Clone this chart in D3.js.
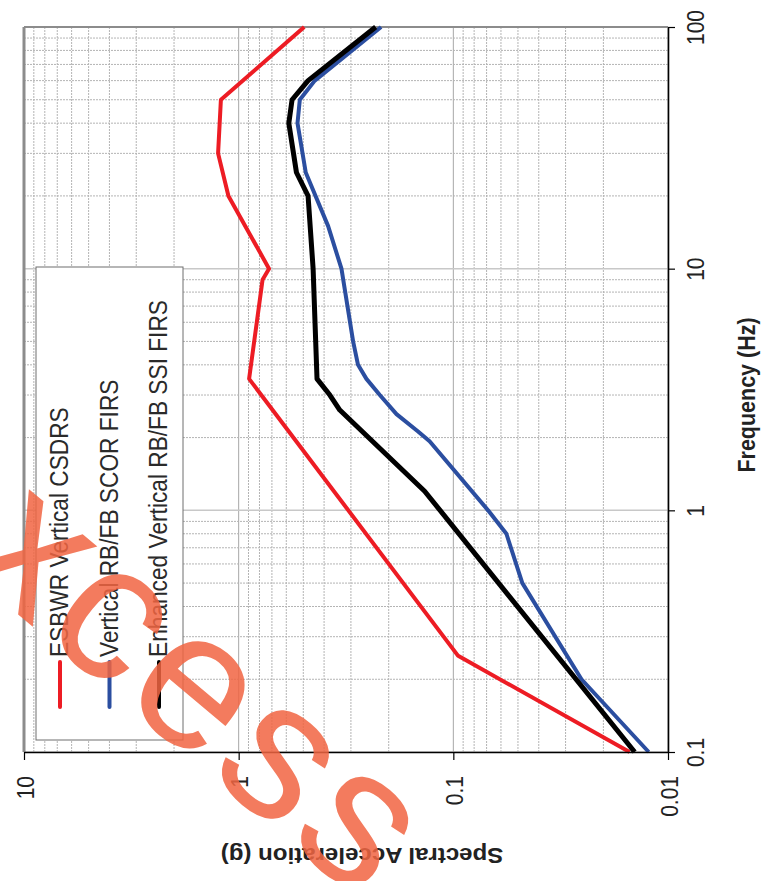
<!DOCTYPE html>
<html>
<head>
<meta charset="utf-8">
<script src="https://cdn.jsdelivr.net/npm/d3@7"></script>
<style>
  html, body { margin: 0; padding: 0; background: #fff; }
  svg { display: block; }
  text { font-family: "Liberation Sans", Arial, sans-serif; }
</style>
</head>
<body>
<script>
// Response spectra, vertical direction: frequency (Hz) vs spectral acceleration (g)
const seriesNames = ["ESBWR Vertical CSDRS", "Vertical RB/FB SCOR FIRS", "Enhanced Vertical RB/FB SSI FIRS"];
const seriesColors = ["#ED1C24", "#2B4EA0", "#000000"];

const csdrsFreq = [0.1, 0.25, 3.5, 9, 10, 20, 30, 50, 100];
const csdrsAcc  = [0.0151, 0.095, 0.894, 0.774, 0.722, 1.116, 1.247, 1.21, 0.495];

const scorFreq = [0.1, 0.2, 0.5, 0.8, 1, 1.93, 2.12, 2.5, 3, 3.5, 4, 5, 10, 15, 25, 40, 50, 60, 100];
const scorAcc  = [0.0123, 0.0253, 0.0477, 0.0566, 0.0689, 0.129, 0.146, 0.184, 0.22, 0.254, 0.278, 0.293, 0.332, 0.383, 0.487, 0.532, 0.519, 0.442, 0.217];

const ssiFreq = [0.1, 1.2, 2.6, 3.0, 3.5, 10, 20, 25, 40, 50, 60, 100];
const ssiAcc  = [0.0143, 0.136, 0.338, 0.376, 0.4315, 0.45, 0.475, 0.538, 0.584, 0.564, 0.475, 0.23];

const freqTicks = [0.1, 1, 10, 100];
const freqTickLabels = ["0.1", "1", "10", "100"];
const accTicks = [0.01, 0.1, 1, 10];
const accTickLabels = ["0.01", "0.1", "1", "10"];

const W = 761, H = 881;
const pLeft = 24, pRight = 668, pTop = 27, pBottom = 752;
const sx = 1.12; // horizontal stretch applied to all glyphs

const svg = d3.select("body").append("svg").attr("width", W).attr("height", H);

// Page is laid out sideways: frequency runs upward, acceleration runs leftward
const fScale = d3.scaleLog().domain([0.1, 100]).range([pBottom, pTop]);
const aScale = d3.scaleLog().domain([0.01, 10]).range([pRight, pLeft]);

const isMajor = v => Math.abs(Math.log10(v) - Math.round(Math.log10(v))) < 1e-9;

// Grid
const grid = svg.append("g");
grid.selectAll("line.fv").data(aScale.ticks()).join("line")
  .attr("x1", d => aScale(d)).attr("x2", d => aScale(d))
  .attr("y1", pTop).attr("y2", pBottom)
  .attr("stroke", d => isMajor(d) ? "#a8a8a8" : "#b4b4b4")
  .attr("stroke-width", 1)
  .attr("stroke-dasharray", d => isMajor(d) ? null : "2,1");
grid.selectAll("line.fh").data(fScale.ticks()).join("line")
  .attr("x1", pLeft).attr("x2", pRight)
  .attr("y1", d => fScale(d)).attr("y2", d => fScale(d))
  .attr("stroke", d => isMajor(d) ? "#c8c8c8" : "#b4b4b4")
  .attr("stroke-width", d => isMajor(d) ? 1.5 : 1)
  .attr("stroke-dasharray", d => isMajor(d) ? null : "2,1");

// Gray frame edges (top and left)
svg.append("line").attr("x1", pLeft).attr("x2", pRight).attr("y1", pTop).attr("y2", pTop)
  .attr("stroke", "#8c8c8c").attr("stroke-width", 2);
svg.append("line").attr("x1", pLeft).attr("x2", pLeft).attr("y1", pTop).attr("y2", pBottom)
  .attr("stroke", "#8c8c8c").attr("stroke-width", 3);

// Series
const toPts = (fs, as) => fs.map((f, i) => ({ f, a: as[i] }));
const series = [toPts(csdrsFreq, csdrsAcc), toPts(scorFreq, scorAcc), toPts(ssiFreq, ssiAcc)];
const widths = [4, 4, 5];
const line = d3.line().x(d => aScale(d.a)).y(d => fScale(d.f));
svg.append("g").selectAll("path").data(series).join("path")
  .attr("d", line)
  .attr("fill", "none")
  .attr("stroke", (d, i) => seriesColors[i])
  .attr("stroke-width", (d, i) => widths[i])
  .attr("stroke-linejoin", "round");

// Frequency axis (right side)
const fAxis = svg.append("g").attr("transform", `translate(${pRight},0)`)
  .call(d3.axisRight(fScale).tickValues(freqTicks)
    .tickFormat((d, i) => freqTickLabels[i]).tickSize(7).tickSizeOuter(0));
fAxis.select(".domain").attr("stroke", "#000").attr("stroke-width", 1.6);
fAxis.selectAll(".tick line").attr("stroke", "#000").attr("stroke-width", 1.2);
fAxis.selectAll(".tick text")
  .attr("x", null).attr("dy", null)
  .attr("transform", `translate(36,0) scale(${sx},1) rotate(-90)`)
  .attr("text-anchor", "middle")
  .attr("font-size", 21).attr("font-family", "Liberation Sans, Arial, sans-serif")
  .attr("fill", "#222");

// Acceleration axis (bottom)
const aAxis = svg.append("g").attr("transform", `translate(0,${pBottom})`)
  .call(d3.axisBottom(aScale).tickValues(accTicks)
    .tickFormat((d, i) => accTickLabels[i]).tickSize(8).tickSizeOuter(0));
aAxis.select(".domain").attr("stroke", "#000").attr("stroke-width", 1.6);
aAxis.selectAll(".tick line").attr("stroke", "#000").attr("stroke-width", 1.2);
aAxis.selectAll(".tick text")
  .attr("y", null).attr("dy", null)
  .attr("transform", `translate(9,24) scale(${sx},1) rotate(-90)`)
  .attr("text-anchor", "end")
  .attr("font-size", 21).attr("font-family", "Liberation Sans, Arial, sans-serif")
  .attr("fill", "#222");

// Axis titles
svg.append("text")
  .attr("transform", `translate(755,395) scale(${sx},1) rotate(-90)`)
  .attr("text-anchor", "middle").attr("font-weight", "bold")
  .attr("font-size", 21.5).attr("fill", "#222")
  .text("Frequency (Hz)");
svg.append("text")
  .attr("transform", `translate(362,848) scale(${sx},1) rotate(180)`)
  .attr("text-anchor", "middle").attr("font-weight", "bold")
  .attr("font-size", 21.5).attr("fill", "#222")
  .text("Spectral Acceleration (g)");

// Legend
const legend = svg.append("g");
legend.append("rect")
  .attr("x", 36).attr("y", 267).attr("width", 147).attr("height", 473)
  .attr("fill", "#fff").attr("stroke", "#6e6e6e").attr("stroke-width", 1);
const legendX = [60, 109.5, 159];
seriesNames.forEach((name, i) => {
  legend.append("line")
    .attr("x1", legendX[i]).attr("x2", legendX[i]).attr("y1", 662).attr("y2", 707)
    .attr("stroke", seriesColors[i]).attr("stroke-width", 4).attr("stroke-linecap", "round");
  legend.append("text")
    .attr("transform", `translate(${legendX[i] + 8},657) scale(${sx},1) rotate(-90)`)
    .attr("text-anchor", "start")
    .attr("font-size", 22.7).attr("fill", "#2a2a2a")
    .text(name);
});

// Watermark
svg.append("text")
  .attr("transform", "translate(-128,492) rotate(40)")
  .attr("font-family", "DejaVu Sans, sans-serif")
  .attr("font-size", 195)
  .attr("letter-spacing", 6)
  .attr("fill", "#F16542")
  .attr("opacity", 0.85)
  .text("excess");
</script>
</body>
</html>
